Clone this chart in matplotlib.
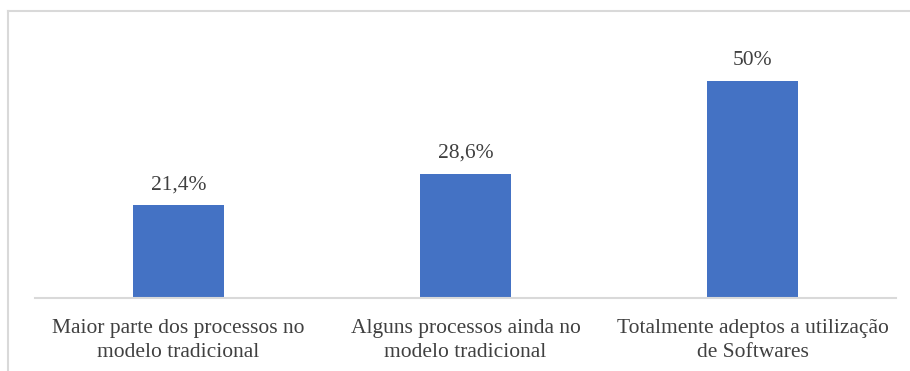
import matplotlib
matplotlib.use("Agg")
import matplotlib.pyplot as plt
from matplotlib.lines import Line2D

categories = ["Maior parte dos processos no\nmodelo tradicional",
              "Alguns processos ainda no\nmodelo tradicional",
              "Totalmente adeptos a utilização\nde Softwares"]
values = [21.4, 28.6, 50.0]
labels = ["21,4%", "28,6%", "50%"]

plt.rcParams['font.family'] = ['Liberation Serif', 'DejaVu Serif']

W, H = 910, 371
fig = plt.figure(figsize=(W/100, H/100), dpi=100)
ax = fig.add_axes([35/W, (H-298)/H, (896-35)/W, (298-38)/H])

x = range(len(values))
bars = ax.bar(x, values, width=0.314, color='#4472C4')
for xi, v, lab in zip(x, values, labels):
    ax.annotate(lab, (xi, v), xytext=(0, 8), textcoords='offset points',
                ha='center', va='bottom', fontsize=15.5, color='#404040')

ax.set_xlim(-0.5, 2.5)
ax.set_ylim(0, 60)
ax.set_yticks([])
ax.set_xticks(list(x))
ax.set_xticklabels(categories, fontsize=15.5, color='#404040', linespacing=1.4)
ax.tick_params(axis='x', length=0, pad=15)
for s in ['top', 'right', 'left']:
    ax.spines[s].set_visible(False)
ax.spines['bottom'].set_color('#D9D9D9')
ax.spines['bottom'].set_linewidth(1.5)

# figure border (top and left visible)
fig.add_artist(Line2D([8/W, 8/W], [0, 1 - 11/H], transform=fig.transFigure, color='#D9D9D9', lw=1.5))
fig.add_artist(Line2D([8/W, 1], [1 - 11/H, 1 - 11/H], transform=fig.transFigure, color='#D9D9D9', lw=1.5))

fig.savefig('out.png', dpi=100, facecolor='white')
